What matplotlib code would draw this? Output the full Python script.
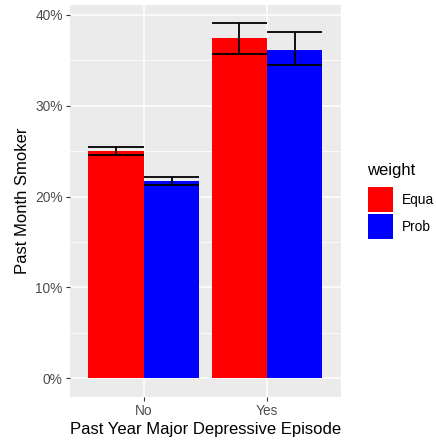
import numpy as np
import matplotlib
matplotlib.use("Agg")
import matplotlib.pyplot as plt
from matplotlib.ticker import FuncFormatter
from matplotlib.patches import Patch

plt.rcParams['font.family'] = ['Liberation Sans', 'DejaVu Sans']

episode = ["No", "Yes"]
weights = ["Equa", "Prob"]
colors = {"Equa": "#FF0000", "Prob": "#0000FF"}

# percent smokers and interval bounds per weight
pct = {"Equa": [25.0, 37.45], "Prob": [21.7, 36.1]}
lo = {"Equa": [24.62, 35.72], "Prob": [21.3, 34.45]}
hi = {"Equa": [25.47, 39.13], "Prob": [22.14, 38.07]}

fig = plt.figure(figsize=(4.36, 4.41), dpi=100)
ax = fig.add_axes([0.1606, 0.1005, 0.6214, 0.8882])
ax.set_facecolor("#EBEBEB")

x = np.arange(1, len(episode) + 1)
w = 0.45
for i, k in enumerate(weights):
    xs = x + (i - 0.5) * w
    ax.bar(xs, pct[k], width=w, color=colors[k], zorder=2)
    ax.hlines(lo[k], xs - w / 2, xs + w / 2, color="black", lw=1.3, zorder=3)
    ax.hlines(hi[k], xs - w / 2, xs + w / 2, color="black", lw=1.3, zorder=3)
    ax.vlines(xs, lo[k], hi[k], color="black", lw=1.3, zorder=3)

ax.set_xlim(0.4, 2.6)
ax.set_ylim(-2.05, 41.1)
ax.set_xticks(x)
ax.set_xticklabels(episode)
ax.set_yticks([0, 10, 20, 30, 40])
ax.set_yticks([5, 15, 25, 35], minor=True)
ax.yaxis.set_major_formatter(FuncFormatter(lambda v, p: f"{v:.0f}%"))

ax.grid(True, which="major", color="white", lw=1.1, zorder=0)
ax.grid(True, which="minor", axis="y", color="white", lw=0.55, zorder=0)
ax.set_axisbelow(True)
for s in ax.spines.values():
    s.set_visible(False)
ax.tick_params(which="major", length=3.2, width=0.8, color="#333333",
               labelcolor="#4D4D4D", labelsize=9.9, pad=2)
ax.tick_params(which="minor", length=0)

ax.set_xlabel("Past Year Major Depressive Episode", fontsize=12, labelpad=3)
ax.set_ylabel("Past Month Smoker", fontsize=12, labelpad=4)

# legend: title as its own text so the gap above the keys can be set
fig.text(0.842, 0.603, "weight", fontsize=12, ha="left", va="baseline")
handles = [Patch(facecolor=colors[k], label=k) for k in weights]
leg = fig.legend(handles=handles, loc="upper left",
                 bbox_to_anchor=(0.844, 0.576), frameon=False,
                 fontsize=9.9, handlelength=1.8,
                 handleheight=2.42, handletextpad=0.7, labelspacing=0.15,
                 borderaxespad=0, borderpad=0)

fig.savefig("out.png", dpi=100)
